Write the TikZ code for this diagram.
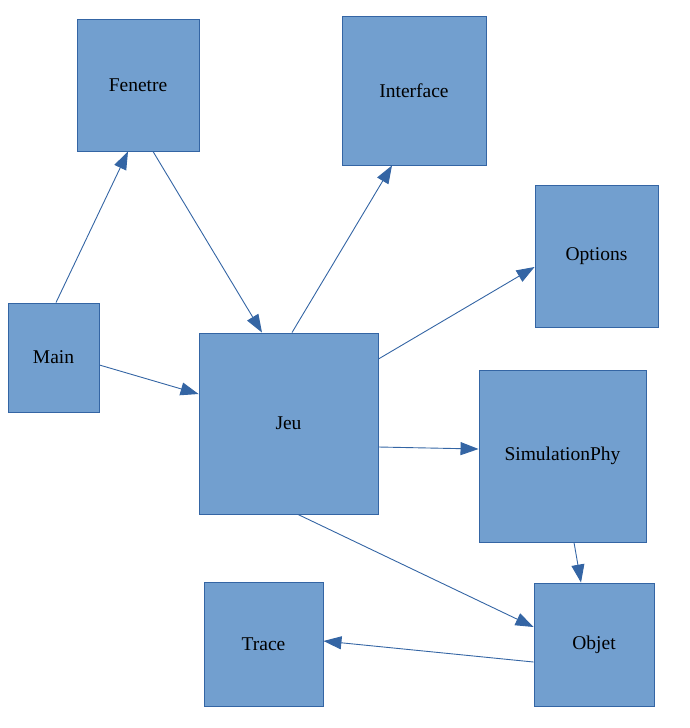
\documentclass[tikz,border=0pt]{standalone}
\usepackage{fontspec}
\setmainfont{Liberation Serif}
\usetikzlibrary{arrows.meta, positioning}

\definecolor{boxfill}{HTML}{729FCF}
\definecolor{boxline}{HTML}{3465A4}

\tikzset{
	classe/.style={rectangle, draw=boxline, fill=boxfill, line width=0.9pt, inner sep=0pt,
		font=\fontsize{19.5}{23}\selectfont},
	lien/.style={draw=boxline, line width=0.9pt, -{Triangle[length=18pt, width=13pt]}}
}

\begin{document}
\begin{tikzpicture}[x=1pt, y=-1pt]
		\useasboundingbox (0,0) rectangle (690,728);
		
		\node[classe, minimum width=122pt, minimum height=132pt] (fen) at (138,85) {Fenetre};
		\node[classe, minimum width=144pt, minimum height=149pt] (int) at (414,90.5) {Interface};
		\node[classe, minimum width=123pt, minimum height=142pt] (opt) at (596.5,256) {Options};
		\node[classe, minimum width=91pt, minimum height=109pt] (main) at (53.5,357.5) {Main};
		\node[classe, minimum width=179pt, minimum height=181pt] (jeu) at (288.5,423.5) {Jeu};
		\node[classe, minimum width=167pt, minimum height=172pt] (sim) at (562.5,456) {SimulationPhy};
		\node[classe, minimum width=120pt, minimum height=123pt] (obj) at (594,644.5) {Objet};
		\node[classe, minimum width=119pt, minimum height=124pt] (trace) at (263.5,644) {Trace};
		
		\draw[lien] ([xshift=2.5pt]main.north) -- ([xshift=-10pt]fen.south);
		\draw[lien] ([xshift=15pt]fen.south) -- ([xshift=-26.5pt]jeu.north);
		\draw[lien] ([xshift=3.5pt]jeu.north) -- ([xshift=-22pt]int.south);
		\draw[lien] ([yshift=64.5pt]jeu.east) -- ([yshift=-11pt]opt.west);
		\draw[lien] ([yshift=-7.5pt]main.east) -- ([yshift=29.5pt]jeu.west);
		\draw[lien] ([yshift=-23.5pt]jeu.east) -- ([yshift=7pt]sim.west);
		\draw[lien] ([xshift=9.5pt]jeu.south) -- ([yshift=17.5pt]obj.west);
		\draw[lien] ([xshift=11.5pt]sim.south) -- ([xshift=-13pt]obj.north);
		\draw[lien] ([yshift=-17.5pt]obj.west) -- ([yshift=3pt]trace.east);
		
\end{tikzpicture}
\end{document}
